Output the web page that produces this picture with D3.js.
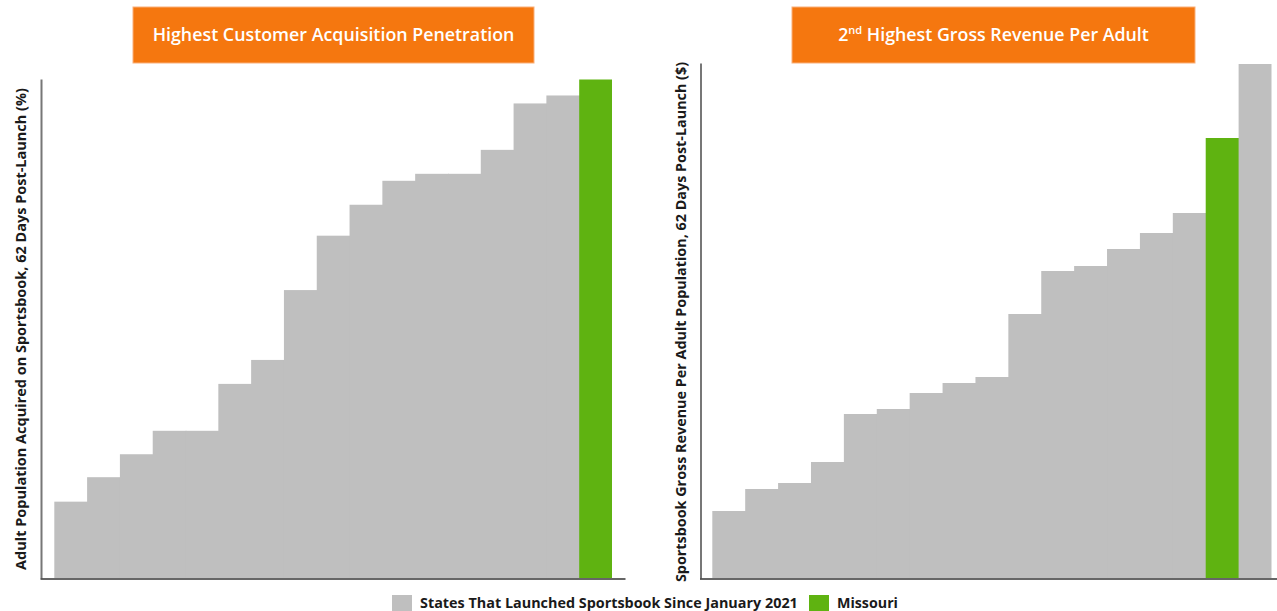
<!DOCTYPE html>
<html>
<head>
<meta charset="utf-8">
<script src="https://cdn.jsdelivr.net/npm/d3@7"></script>
<style>
  html, body { margin: 0; padding: 0; background: #ffffff; }
  svg { display: block; font-family: "Open Sans", "Noto Sans", sans-serif; }
</style>
</head>
<body>
<svg id="chart" width="1277" height="611"></svg>
<script>
// Adult population acquired on sportsbook, 62 days post-launch (%), states ordered ascending
const acquisitionStates = ["S1","S2","S3","S4","S5","S6","S7","S8","S9","S10","S11","S12","S13","S14","S15","S16","Missouri"];
const acquisitionValues = [1.53, 2.02, 2.48, 2.95, 2.95, 3.89, 4.37, 5.77, 6.86, 7.48, 7.96, 8.10, 8.10, 8.58, 9.51, 9.67, 9.99];

// Sportsbook gross revenue per adult population, 62 days post-launch ($)
const revenueStates = ["R1","R2","R3","R4","R5","R6","R7","R8","R9","R10","R11","R12","R13","R14","R15","Missouri","R17"];
const revenueValues = [6.7, 8.9, 9.5, 11.6, 16.4, 16.9, 18.5, 19.5, 20.1, 26.4, 30.7, 31.2, 32.9, 34.5, 36.5, 44.0, 51.4];

const highlight = "Missouri";
const legendLabels = ["States That Launched Sportsbook Since January 2021", "Missouri"];

const GRAY = "#bfbfbf", GREEN = "#5fb311", ORANGE = "#f5770f";

const svg = d3.select("#chart");

// Fit a text element's font size so that it spans a given width
function fitWidth(sel, target) {
  const node = sel.node();
  let fs = parseFloat(sel.attr("font-size"));
  const w = node.getComputedTextLength();
  if (w > 0) sel.attr("font-size", (fs * target / w).toFixed(2));
}

function panel(cfg) {
  const g = svg.append("g");
  const x = d3.scaleBand().domain(cfg.states).range(cfg.xRange).padding(0);
  const y = d3.scaleLinear().domain(cfg.yDomain).range([578, cfg.yTop]);

  // Bars overlap by a pixel so neighbouring columns read as one stepped area
  g.selectAll("rect.bar")
    .data(cfg.values.map((v, i) => ({ state: cfg.states[i], value: v, last: i === cfg.values.length - 1 })))
    .join("rect")
    .attr("class", "bar")
    .attr("x", d => x(d.state))
    .attr("width", d => x.bandwidth() + (d.last ? 0 : 1))
    .attr("y", d => y(d.value))
    .attr("height", d => y(0) - y(d.value))
    .attr("fill", d => d.state === highlight ? GREEN : GRAY);

  // Axis lines (no ticks)
  const yAxis = g.append("g")
    .attr("transform", `translate(${cfg.axisX},0)`)
    .call(d3.axisLeft(y).tickValues([]).tickSizeOuter(0));
  yAxis.select(".domain").attr("stroke", "#777").attr("stroke-width", 2);

  const xAxis = g.append("g")
    .attr("transform", "translate(0,578.5)")
    .call(d3.axisBottom(d3.scaleLinear().range([cfg.axisX - 1, cfg.axisEnd])).tickValues([]).tickSizeOuter(0));
  xAxis.select(".domain").attr("stroke", "#333").attr("stroke-width", 1.6);

  // Rotated axis title
  const t = g.append("text")
    .attr("transform", `translate(${cfg.titleX},${cfg.titleY}) rotate(-90)`)
    .attr("text-anchor", "middle")
    .attr("font-size", 13)
    .attr("font-weight", 700)
    .attr("fill", "#1a1a1a")
    .text(cfg.yTitle);
  fitWidth(t, cfg.titleLen);

  // Orange heading box
  g.append("rect")
    .attr("x", cfg.box[0]).attr("y", 7)
    .attr("width", cfg.box[1] - cfg.box[0]).attr("height", 56)
    .attr("fill", ORANGE)
    .attr("stroke", "#f9b07a").attr("stroke-width", 1);
  const h = g.append("text")
    .attr("x", (cfg.box[0] + cfg.box[1]) / 2)
    .attr("y", 41)
    .attr("text-anchor", "middle")
    .attr("font-size", 16)
    .attr("font-weight", 600)
    .attr("fill", "#ffffff");
  cfg.heading.forEach(part => {
    const ts = h.append("tspan").text(part.text);
    if (part.sup) ts.attr("baseline-shift", "super").attr("font-size", "62%");
  });
  // scale heading to its measured width
  const node = h.node();
  const w = node.getComputedTextLength();
  if (w > 0) h.attr("font-size", (16 * cfg.headingLen / w).toFixed(2));
}

panel({
  states: acquisitionStates, values: acquisitionValues,
  xRange: [54.3, 612], yDomain: [0, 10], yTop: 79,
  axisX: 41, axisEnd: 625,
  titleX: 26, titleY: 329, titleLen: 482,
  yTitle: "Adult Population Acquired on Sportsbook, 62 Days Post-Launch (%)",
  box: [133, 534], headingLen: 362,
  heading: [{ text: "Highest Customer Acquisition Penetration" }]
});

panel({
  states: revenueStates, values: revenueValues,
  xRange: [712.3, 1271.5], yDomain: [0, 51.5], yTop: 63,
  axisX: 700.5, axisEnd: 1277,
  titleX: 686, titleY: 322, titleLen: 520,
  yTitle: "Sportsbook Gross Revenue Per Adult Population, 62 Days Post-Launch ($)",
  box: [792, 1195], headingLen: 311,
  heading: [{ text: "2" }, { text: "nd", sup: true }, { text: " Highest Gross Revenue Per Adult" }]
});

// Legend
const legend = svg.append("g");
const items = [
  { label: legendLabels[0], color: GRAY, x: 392, textLen: 378 },
  { label: legendLabels[1], color: GREEN, x: 809, textLen: 61 }
];
items.forEach(it => {
  legend.append("rect").attr("x", it.x).attr("y", 595).attr("width", 20).attr("height", 16).attr("fill", it.color);
  const t = legend.append("text")
    .attr("x", it.x + 28).attr("y", 608)
    .attr("font-size", 13).attr("font-weight", 700)
    .attr("fill", "#1a1a1a")
    .text(it.label);
  fitWidth(t, it.textLen);
});
</script>
</body>
</html>
